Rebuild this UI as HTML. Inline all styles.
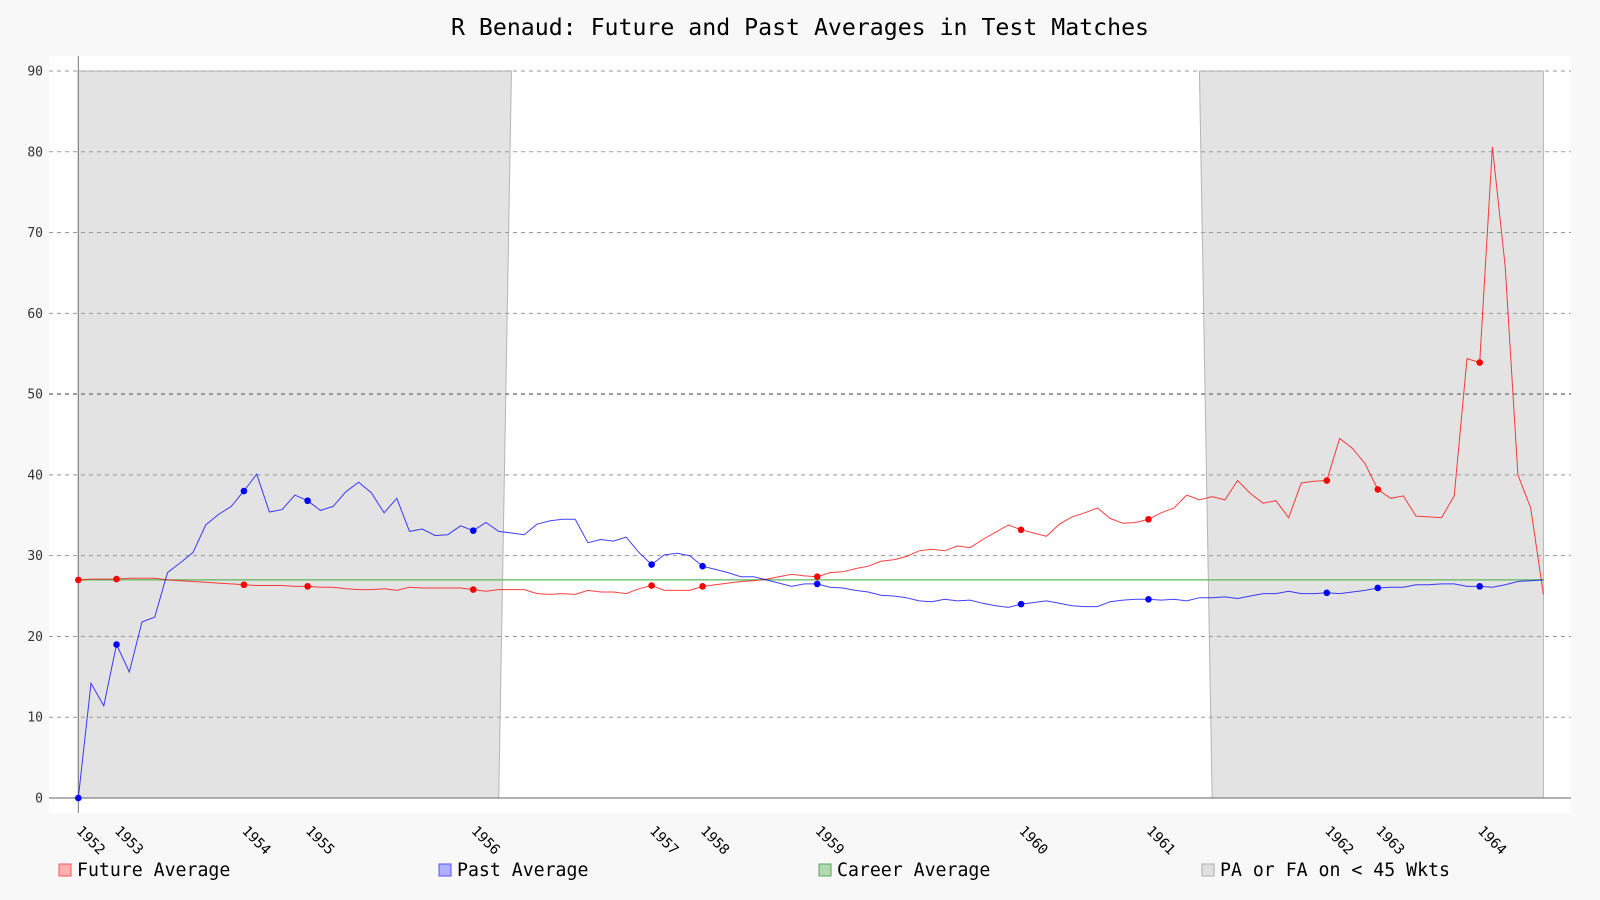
<!DOCTYPE html>
<html><head><meta charset="utf-8">
<style>
html,body{margin:0;padding:0;background:#f8f8f8;}
svg{display:block;font-family:"DejaVu Sans Mono","Liberation Mono",monospace;}
</style></head>
<body>
<svg id="chart" width="1600" height="900" viewBox="0 0 1600 900" xmlns="http://www.w3.org/2000/svg">
<rect x="0" y="0" width="1600" height="900" fill="#f8f8f8"/>
<text x="800" y="35" text-anchor="middle" font-size="23.2" fill="#000">R Benaud: Future and Past Averages in Test Matches</text>
<rect x="49" y="56" width="1522" height="757" fill="#ffffff"/>
<g id="shade"></g>
<g id="grid"></g>
<g id="series"></g>
<g id="xlabels"></g>
<g id="legend"></g>
</svg>
<script>
const yearLabels = ["1952","1953","1954","1955","1956","1957","1958","1959","1960","1961","1962","1963","1964"];
const yearIndex = [0,3,13,18,31,45,49,58,74,84,98,102,110];
const yTicks = [0,10,20,30,40,50,60,70,80,90];
const careerAverage = 27.0;
const pastAverage = [0,14.2,11.4,19.0,15.6,21.8,22.4,27.9,29.1,30.4,
33.8,35.1,36.1,38.0,40.1,35.4,35.7,37.5,36.8,35.6,
36.1,37.9,39.1,37.8,35.3,37.1,33.0,33.3,32.5,32.6,
33.7,33.1,34.1,33.0,32.8,32.6,33.9,34.3,34.5,34.5,
31.6,32.0,31.8,32.3,30.4,28.9,30.1,30.3,30.0,28.7,
28.3,27.9,27.4,27.4,27.0,26.6,26.2,26.5,26.5,26.1,
26.0,25.7,25.5,25.1,25.0,24.8,24.4,24.3,24.6,24.4,
24.5,24.1,23.8,23.6,24.0,24.2,24.4,24.1,23.8,23.7,
23.7,24.3,24.5,24.6,24.6,24.5,24.6,24.4,24.8,24.8,
24.9,24.7,25.0,25.3,25.3,25.6,25.3,25.3,25.4,25.3,
25.5,25.7,26.0,26.1,26.1,26.4,26.4,26.5,26.5,26.2,
26.2,26.1,26.4,26.8,26.9,27.0];
const futureAverage = [27.0,27.1,27.1,27.1,27.2,27.2,27.2,27.0,26.9,26.8,
26.7,26.6,26.5,26.4,26.3,26.3,26.3,26.2,26.2,26.1,
26.1,25.9,25.8,25.8,25.9,25.7,26.1,26.0,26.0,26.0,
26.0,25.8,25.6,25.8,25.8,25.8,25.3,25.2,25.3,25.2,
25.7,25.5,25.5,25.3,25.9,26.3,25.7,25.7,25.7,26.2,
26.4,26.6,26.8,26.9,27.1,27.4,27.7,27.5,27.4,27.9,
28.0,28.4,28.7,29.3,29.5,29.9,30.6,30.8,30.6,31.2,
31.0,32.0,32.9,33.8,33.2,32.8,32.4,33.9,34.8,35.3,
35.9,34.6,34.0,34.1,34.5,35.3,35.9,37.5,36.9,37.3,
36.9,39.3,37.7,36.5,36.8,34.7,39.0,39.2,39.3,44.5,
43.3,41.4,38.2,37.1,37.4,34.9,34.8,34.7,37.4,54.4,
53.9,80.6,65.8,40.0,35.9,25.2];
// shaded regions: [topFrom, topTo, bottomFrom, bottomTo] in match index
const shadeTopFrom = [0, 88];
const shadeTopTo = [34, 115];
const shadeBotFrom = [0, 89];
const shadeBotTo = [33, 115];
const shadeLevel = 90;

const NS = "http://www.w3.org/2000/svg";
const X0 = 78.3, DX = 12.74, Y0 = 798, KY = 8.078;
function xs(i){ return X0 + i*DX; }
function ys(v){ return Y0 - v*KY; }
function mk(tag, attrs, parent){
  const e = document.createElementNS(NS, tag);
  for (const k in attrs) e.setAttribute(k, attrs[k]);
  parent.appendChild(e);
  return e;
}
const shade = document.getElementById('shade');
for (let r=0;r<shadeTopFrom.length;r++){
  const pts = [[xs(shadeBotFrom[r]),ys(0)],[xs(shadeTopFrom[r]),ys(shadeLevel)],[xs(shadeTopTo[r]),ys(shadeLevel)],[xs(shadeBotTo[r]),ys(0)]];
  const p = mk('polygon',{points:pts.map(p=>p.join(',')).join(' '),fill:'#e3e3e3',stroke:'#b5b5b5','stroke-width':1},shade);
  
  
}
const grid = document.getElementById('grid');
yTicks.forEach(t=>{
  const y = ys(t);
  if (t===0){
    const l = mk('line',{x1:49,x2:1571,y1:y,y2:y,stroke:'#666','stroke-width':1},grid);
    
    
  } else {
    const l = mk('line',{x1:49,x2:1571,y1:y,y2:y,stroke: t===50?'#888':'#999','stroke-width': t===50?1.6:1,'stroke-dasharray':'4,4'},grid);
    
    
  }
  const tx = mk('text',{x:43,y:y+4.5,'text-anchor':'end','font-size':13,fill:'#333'},grid);
  tx.textContent = String(t);
  
  
});
const ya = mk('line',{x1:X0,x2:X0,y1:56,y2:813,stroke:'#777','stroke-width':1},grid);



const series = document.getElementById('series');
const cl = mk('line',{x1:xs(0),x2:xs(futureAverage.length-1),y1:ys(careerAverage),y2:ys(careerAverage),stroke:'#5cb85c','stroke-width':1.3},series);


function drawLine(vals,color,name){
  const d = vals.map((v,i)=>(i?'L':'M')+xs(i).toFixed(1)+','+ys(v).toFixed(1)).join(' ');
  const p = mk('path',{d:d,fill:'none',stroke:color,'stroke-width':1,'stroke-opacity':0.75},series);
  
  
}
drawLine(futureAverage,'#ff0000','future-average');
drawLine(pastAverage,'#0000ff','past-average');
yearIndex.forEach((i,k)=>{
  const a = mk('circle',{cx:xs(i),cy:ys(futureAverage[i]),r:3.3,fill:'#ff0000'},series);
  
  
  const b = mk('circle',{cx:xs(i),cy:ys(pastAverage[i]),r:3.3,fill:'#0000ff'},series);
  
  
});
const xl = document.getElementById('xlabels');
yearIndex.forEach((i,k)=>{
  const x = xs(i) + 3;
  const t = mk('text',{x:x,y:834,'font-size':14,fill:'#000',transform:'rotate(45 '+x+' 826)'},xl);
  t.textContent = yearLabels[k];
  
  
});
const legend = document.getElementById('legend');
const legNames = ['Future Average','Past Average','Career Average','PA or FA on < 45 Wkts'];
const legFill = ['#ffb0b0','#b0b0ff','#b3d9b3','#e0e0e0'];
const legStroke = ['#ff5555','#5555ff','#55aa55','#aaaaaa'];
const legX = [59,439,819,1202];
legNames.forEach((n,k)=>{
  const r = mk('rect',{x:legX[k],y:864,width:12,height:12,fill:legFill[k],stroke:legStroke[k],'stroke-width':1},legend);
  
  
  const t = mk('text',{x:legX[k]+18,y:876,'font-size':18.2,fill:'#000'},legend);
  t.textContent = n;
  
  
});
</script>
</body></html>
